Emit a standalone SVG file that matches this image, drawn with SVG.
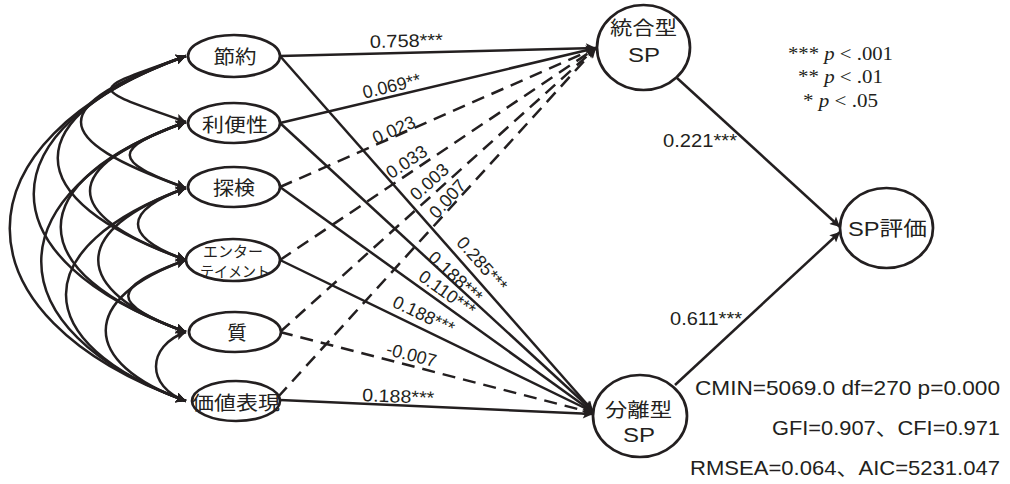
<svg xmlns="http://www.w3.org/2000/svg" width="1010" height="484" viewBox="0 0 1010 484">
<defs>
<marker id="ah" viewBox="0 0 10 10" refX="10" refY="5" markerWidth="11" markerHeight="10" markerUnits="userSpaceOnUse" orient="auto-start-reverse">
<path d="M0,0 L10,5 L0,10 L2,5 z" fill="#231f20"/>
</marker>
<style>
.nd{fill:#fff;stroke:#231f20;stroke-width:2.7}
.ln{fill:none;stroke:#231f20;stroke-width:2.5;marker-end:url(#ah)}
.ds{stroke-dasharray:13 8}
.cv{fill:none;stroke:#231f20;stroke-width:2.5;marker-start:url(#ah);marker-end:url(#ah)}
.jp{font-family:"Liberation Sans","Noto Sans CJK JP",sans-serif;fill:#231f20;text-anchor:middle}
.lb{font-family:"Liberation Sans","Noto Sans CJK JP",sans-serif;font-size:18px;fill:#231f20}
.st{font-family:"Liberation Sans","Noto Sans CJK JP",sans-serif;font-size:21px;fill:#231f20;text-anchor:end}
.lg{font-family:"Liberation Serif",serif;font-size:19px;fill:#231f20;text-anchor:middle}
</style>
</defs>
<rect width="1010" height="484" fill="#fff"/>
<g id="connectors">
<g id="covariances">
<path class="cv" d="M186,56 C86,92 86,86 186,122"/>
<path class="cv" d="M186,122 C111,149 111,161 186,188"/>
<path class="cv" d="M186,188 C122,211 122,237 186,260"/>
<path class="cv" d="M186,260 C109,288 109,304 186,332"/>
<path class="cv" d="M186,332 C146,346 146,387 186,401"/>
<path class="cv" d="M186,56 C46,106 46,138 186,188"/>
<path class="cv" d="M186,122 C58,168 58,214 186,260"/>
<path class="cv" d="M186,188 C69,230 69,290 186,332"/>
<path class="cv" d="M186,260 C79,298 79,363 186,401"/>
<path class="cv" d="M186,56 C15,117 15,199 186,260"/>
<path class="cv" d="M186,122 C19,182 19,272 186,332"/>
<path class="cv" d="M186,188 C26,246 26,343 186,401"/>
<path class="cv" d="M186,56 C-17,129 -17,259 186,332"/>
<path class="cv" d="M186,122 C-7,192 -7,331 186,401"/>
<path class="cv" d="M186,56 C-49,140 -49,317 186,401"/>
</g>
<g id="paths-integrated">
<path class="ln" d="M280,56 L596,48"/>
<path class="ln" d="M280,123 L596,48"/>
<path class="ln ds" d="M280,187 L596,48"/>
<path class="ln ds" d="M280,260 L596,48"/>
<path class="ln ds" d="M280,332 L596,48"/>
<path class="ln ds" d="M278,397 L596,48"/>
</g>
<g id="paths-separated">
<path class="ln" d="M280,56 L593,411"/>
<path class="ln" d="M280,123 L593,411"/>
<path class="ln" d="M280,187 L593,412"/>
<path class="ln" d="M280,260 L593,412"/>
<path class="ln ds" d="M280,332 L593,413"/>
<path class="ln" d="M280,400 L593,414"/>
</g>
<g id="paths-eval">
<path class="ln" d="M677,78 L840,227"/>
<path class="ln" d="M675,385 L840,232"/>
</g>
<g id="edge-labels">
<text class="lb" transform="translate(370,48) rotate(-1.5)" textLength="73" lengthAdjust="spacingAndGlyphs">0.758***</text>
<text class="lb" text-anchor="middle" transform="translate(393,92) rotate(-13.4)">0.069**</text>
<text class="lb" text-anchor="middle" transform="translate(396.4,135.5) rotate(-23.7)">0.023</text>
<text class="lb" text-anchor="middle" transform="translate(410,167) rotate(-34)">0.033</text>
<text class="lb" text-anchor="middle" transform="translate(433.5,186.5) rotate(-42)">0.003</text>
<text class="lb" text-anchor="middle" transform="translate(452,203) rotate(-48)">0.007</text>
<text class="lb" text-anchor="middle" transform="translate(477.5,268) rotate(48.5)">0.285***</text>
<text class="lb" text-anchor="middle" transform="translate(451.4,281.4) rotate(42.5)">0.188***</text>
<text class="lb" text-anchor="middle" transform="translate(443.5,298) rotate(35.5)">0.110***</text>
<text class="lb" text-anchor="middle" transform="translate(421,320.4) rotate(25.6)">0.188***</text>
<text class="lb" text-anchor="middle" transform="translate(410,360.8) rotate(14.3)">-0.007</text>
<text class="lb" transform="translate(362,401) rotate(2.4)" textLength="72" lengthAdjust="spacingAndGlyphs">0.188***</text>
<text class="lb" x="663" y="147" textLength="74" lengthAdjust="spacingAndGlyphs">0.221***</text>
<text class="lb" x="670" y="325" textLength="72" lengthAdjust="spacingAndGlyphs">0.611***</text>
</g>
</g>
<g id="n-setsuyaku"><ellipse class="nd" cx="234" cy="56" rx="46" ry="21"/><text class="jp" x="235" y="56.5" font-size="19.5" dominant-baseline="central" textLength="43" lengthAdjust="spacingAndGlyphs">節約</text></g>
<g id="n-ribensei"><ellipse class="nd" cx="234" cy="123" rx="46" ry="20"/><text class="jp" x="235" y="125" font-size="19.5" dominant-baseline="central" textLength="66" lengthAdjust="spacingAndGlyphs">利便性</text></g>
<g id="n-tanken"><ellipse class="nd" cx="234" cy="187" rx="46" ry="20"/><text class="jp" x="234" y="187.5" font-size="19.5" dominant-baseline="central" textLength="42" lengthAdjust="spacingAndGlyphs">探検</text></g>
<g id="n-entertainment"><ellipse class="nd" cx="233" cy="260" rx="47" ry="21"/><text class="jp" x="233" y="251.5" font-size="15" dominant-baseline="central" textLength="60" lengthAdjust="spacingAndGlyphs">エンター</text><text class="jp" x="235" y="271.5" font-size="15" dominant-baseline="central" textLength="70" lengthAdjust="spacingAndGlyphs">テイメント</text></g>
<g id="n-shitsu"><ellipse class="nd" cx="235" cy="332" rx="46" ry="20"/><text class="jp" x="237" y="332.5" font-size="19.5" dominant-baseline="central">質</text></g>
<g id="n-kachi"><ellipse class="nd" cx="236" cy="401" rx="44" ry="20"/><text class="jp" x="236" y="403" font-size="19.5" dominant-baseline="central" textLength="88" lengthAdjust="spacingAndGlyphs">価値表現</text></g>
<g id="n-integrated"><ellipse class="nd" cx="643.5" cy="47.5" rx="46.5" ry="42.5"/><text class="jp" x="643.5" y="27.5" font-size="19.5" dominant-baseline="central" textLength="67" lengthAdjust="spacingAndGlyphs">統合型</text><text class="jp" x="644" y="62" font-size="20" textLength="32" lengthAdjust="spacingAndGlyphs">SP</text></g>
<g id="n-separated"><ellipse class="nd" cx="640" cy="416" rx="47" ry="41"/><text class="jp" x="638.5" y="410" font-size="19.5" dominant-baseline="central" textLength="67" lengthAdjust="spacingAndGlyphs">分離型</text><text class="jp" x="639" y="442" font-size="20" textLength="32" lengthAdjust="spacingAndGlyphs">SP</text></g>
<g id="n-eval"><ellipse class="nd" cx="886.5" cy="228" rx="46.5" ry="40"/><text class="jp" x="887.5" y="236" font-size="20" textLength="79" lengthAdjust="spacingAndGlyphs">SP評価</text></g>
<g id="legend">
<text class="lg" x="840.5" y="60" textLength="105" lengthAdjust="spacingAndGlyphs">*** <tspan font-style="italic">p</tspan> &lt; .001</text>
<text class="lg" x="840.5" y="83" textLength="85" lengthAdjust="spacingAndGlyphs">** <tspan font-style="italic">p</tspan> &lt; .01</text>
<text class="lg" x="840.5" y="107" textLength="75" lengthAdjust="spacingAndGlyphs">* <tspan font-style="italic">p</tspan> &lt; .05</text>
</g>
<g id="fit-stats">
<text class="st" x="1000" y="395" textLength="305" lengthAdjust="spacingAndGlyphs">CMIN=5069.0 df=270 p=0.000</text>
<text class="st" x="1000" y="435" textLength="228" lengthAdjust="spacingAndGlyphs">GFI=0.907、CFI=0.971</text>
<text class="st" x="1000" y="475" textLength="310" lengthAdjust="spacingAndGlyphs">RMSEA=0.064、AIC=5231.047</text>
</g>
</svg>
